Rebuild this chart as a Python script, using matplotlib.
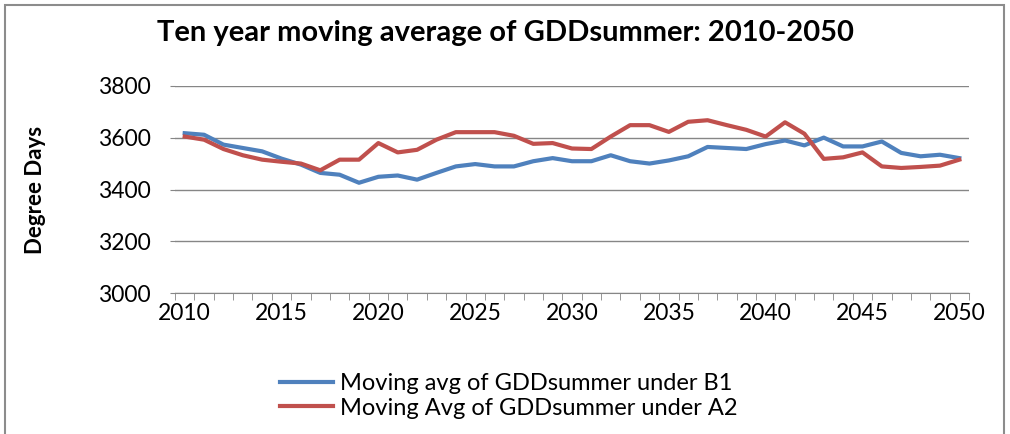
import matplotlib
matplotlib.use('Agg')
import matplotlib.pyplot as plt
from matplotlib.patches import Rectangle

# data
years = list(range(2010, 2051))
b1_avg = [3617, 3611, 3573, 3560, 3547, 3519, 3496, 3464, 3457, 3426,
          3449, 3454, 3438, 3464, 3489, 3498, 3489, 3489, 3509, 3521,
          3509, 3509, 3532, 3509, 3500, 3512, 3528, 3564, 3560, 3556,
          3575, 3589, 3570, 3600, 3566, 3566, 3585, 3541, 3528, 3534, 3521]
a2_avg = [3604, 3592, 3556, 3532, 3515, 3507, 3500, 3474, 3515, 3515,
          3579, 3543, 3553, 3592, 3621, 3621, 3621, 3607, 3576, 3579,
          3558, 3556, 3604, 3648, 3648, 3622, 3661, 3667, 3648, 3630,
          3604, 3659, 3615, 3518, 3524, 3543, 3489, 3483, 3487, 3492, 3515]
y_ticks = [3000, 3200, 3400, 3600, 3800]
x_labels = [2010, 2015, 2020, 2025, 2030, 2035, 2040, 2045, 2050]

plt.rcParams['font.family'] = ['Lato', 'DejaVu Sans']

fig = plt.figure(figsize=(10.1, 4.34), dpi=100)
ax = fig.add_axes([0.1733, 0.3242, 0.9594 - 0.1733, 0.8025 - 0.3242])

# chart border
fig.patches.append(Rectangle((0.005, -0.1), 0.989, 1.088, transform=fig.transFigure,
                             fill=False, edgecolor='#8c8c8c', linewidth=1.5))

ax.plot(years, b1_avg, color='#4F81BD', lw=3, label='Moving avg of GDDsummer under B1')
ax.plot(years, a2_avg, color='#C0504D', lw=3, label='Moving Avg of GDDsummer under A2')

ax.set_ylim(3000, 3800)
ax.set_yticks(y_ticks)
ax.set_xlim(2009.5, 2050.5)
ax.set_xticks(x_labels)
ax.set_xticks([y + 0.5 for y in range(2009, 2051)], minor=True)
ax.tick_params(axis='x', which='major', length=0, labelsize=16.5, pad=7)
ax.tick_params(axis='x', which='minor', length=5, color='#868686', direction='out')
ax.tick_params(axis='y', length=3.6, color='#868686', labelsize=16.5, pad=14)
ax.yaxis.grid(True, color='#868686', lw=1)
ax.set_axisbelow(True)
for s in ['left', 'right', 'top']:
    ax.spines[s].set_visible(False)
ax.spines['bottom'].set_color('#868686')

ax.set_ylabel('Degree Days', fontsize=16, fontweight='bold')
ax.yaxis.set_label_coords(-0.162, 0.5)
fig.text(0.5, 0.924, 'Ten year moving average of GDDsummer: 2010-2050',
         ha='center', va='center', fontsize=21, fontweight='bold')

fig.legend(loc='center left', bbox_to_anchor=(0.277, 0.0876), frameon=False,
           fontsize=17, handlelength=2.25, handletextpad=0.3, labelspacing=0.15,
           borderaxespad=0, borderpad=0)

fig.savefig('out.png', dpi=100)
